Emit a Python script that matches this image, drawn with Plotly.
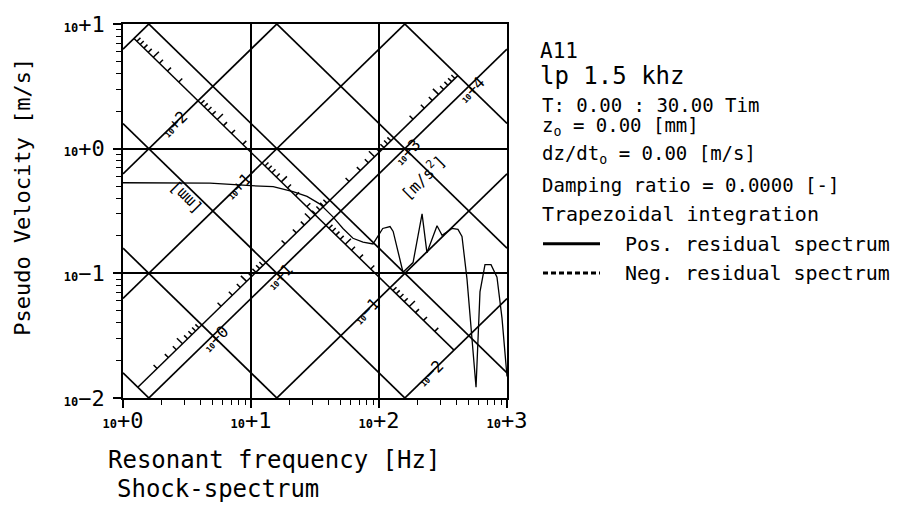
import math
import plotly.graph_objects as go

# ---- data -------------------------------------------------------------
# Positive residual shock spectrum: resonant frequency [Hz] vs pseudo velocity [m/s]
freq_hz = [1.0, 2.33, 4.78, 10.0, 14.9, 21.3, 27.4, 34.6, 43.7, 52.3, 62.6, 75.0, 89.8,
           107, 122, 129, 154, 184.5, 217, 237, 284, 311, 372, 414, 445, 487, 573,
           615, 673, 750, 835, 914, 1000]
pos_velocity = [0.533, 0.533, 0.53, 0.505, 0.496, 0.453, 0.414, 0.359, 0.284, 0.229,
                0.191, 0.178, 0.172, 0.229, 0.237, 0.217, 0.102, 0.122, 0.300, 0.146,
                0.241, 0.202, 0.229, 0.225, 0.198, 0.0898, 0.0122, 0.0710, 0.1175,
                0.1175, 0.093, 0.0437, 0.0149]

# Axis decades and their labels
x_decades = [1, 10, 100, 1000]
x_exp_labels = ["+0", "+1", "+2", "+3"]
y_decades = [0.01, 0.1, 1, 10]
y_exp_labels = ["\u22122", "\u22121", "+0", "+1"]

# Tripartite grid: constant displacement [mm] and constant acceleration [m/s^2]
disp_grid_mm = [0.01, 0.1, 1, 10, 100, 1000]
acc_grid = [0.1, 1, 10, 100, 1000, 10000]
disp_label_mm = [100, 10, 0.1, 0.01]
disp_label_exp = ["+2", "+1", "\u22121", "\u22122"]
acc_label = [1, 10, 1000, 10000]
acc_label_exp = ["+0", "+1", "+3", "+4"]

# ---- geometry helpers ------------------------------------------------
FONT = "DejaVu Sans Mono"
W, H = 909, 512
ML, MR, MT, MB = 123, 402, 15, 114
U = 3.0 / (W - ML - MR)          # decades per pixel (both axes span 3 decades)
LOG2PI = math.log10(2 * math.pi)
S_DRULER = 0.97                   # log V + log f of the displacement ruler
C_ARULER = -2.03                  # log V - log f of the acceleration ruler
R2 = math.sqrt(2)


def d_const(d_mm):
    return LOG2PI + math.log10(d_mm / 1000.0)


def a_const(a):
    return math.log10(a) - LOG2PI


def on_druler(d_mm):
    c = d_const(d_mm)
    return (S_DRULER - c) / 2, (S_DRULER + c) / 2


def on_aruler(a):
    s = a_const(a)
    return (s - C_ARULER) / 2, (s + C_ARULER) / 2


fig = go.Figure()

# diagonal grid lines
gx, gy = [], []
for d in disp_grid_mm:
    dm = d / 1000.0
    gx += [1, 1000, None]
    gy += [2 * math.pi * 1 * dm, 2 * math.pi * 1000 * dm, None]
for a in acc_grid:
    gx += [1, 1000, None]
    gy += [a / (2 * math.pi * 1), a / (2 * math.pi * 1000), None]
fig.add_trace(go.Scatter(x=gx, y=gy, mode="lines", line=dict(color="black", width=1.7),
                         hoverinfo="skip", showlegend=False))

# rulers with logarithmic ticks
rx, ry = [], []
p0, p1 = on_druler(max(disp_grid_mm)), on_druler(min(disp_grid_mm))
rx += [10 ** p0[0], 10 ** p1[0], None]
ry += [10 ** p0[1], 10 ** p1[1], None]
for k in range(-2, 3):
    for m in range(2, 10):
        lf, lv = on_druler(m * 10 ** k)
        L = (8 if m == 5 else 5) * U / R2
        rx += [10 ** lf, 10 ** (lf + L), None]
        ry += [10 ** lv, 10 ** (lv + L), None]
p0, p1 = on_aruler(min(acc_grid)), on_aruler(max(acc_grid))
rx += [10 ** p0[0], 10 ** p1[0], None]
ry += [10 ** p0[1], 10 ** p1[1], None]
for k in range(-1, 4):
    for m in range(2, 10):
        lf, lv = on_aruler(m * 10 ** k)
        L = (8 if m == 5 else 5) * U / R2
        rx += [10 ** lf, 10 ** (lf - L), None]
        ry += [10 ** lv, 10 ** (lv + L), None]
fig.add_trace(go.Scatter(x=rx, y=ry, mode="lines", line=dict(color="black", width=1.5),
                         hoverinfo="skip", showlegend=False))

# spectrum curve
fig.add_trace(go.Scatter(x=freq_hz, y=pos_velocity, mode="lines",
                         line=dict(color="black", width=1.3), showlegend=False))

ann = []


def small10(exp, big=15, small=8):
    return ("<span style='font-size:%dpx'><b>10</b></span>"
            "<span style='font-size:%dpx'>%s</span>") % (small, big, exp)


for d, e in zip(disp_label_mm, disp_label_exp):
    lf, lv = on_druler(d)
    ann.append(dict(x=lf - 24 * U, y=lv - 24 * U, xref="x", yref="y", text=small10(e, 16),
                    textangle=-45, showarrow=False, xanchor="center", yanchor="middle",
                    font=dict(family=FONT, size=16, color="black")))
for a, e in zip(acc_label, acc_label_exp):
    lf, lv = on_aruler(a)
    ann.append(dict(x=lf + 14 * U, y=lv - 14 * U, xref="x", yref="y", text=small10(e, 16),
                    textangle=-45, showarrow=False, xanchor="center", yanchor="middle",
                    font=dict(family=FONT, size=16, color="black")))

ann.append(dict(x=0.484, y=-0.391, xref="x", yref="y", text="[mm]", textangle=-135,
                showarrow=False, xanchor="center", yanchor="middle",
                font=dict(family=FONT, size=16, color="black")))
ann.append(dict(x=2.344, y=-0.234, xref="x", yref="y", text="[m/s<sup>2</sup>]", textangle=-45,
                showarrow=False, xanchor="center", yanchor="middle",
                font=dict(family=FONT, size=16, color="black")))


def px(x):
    return (x - ML) / (W - ML - MR)


def py(y):
    return (H - MB - y) / (H - MT - MB)


# axis titles
ann.append(dict(x=px(23), y=py(192), xref="paper", yref="paper", textangle=-90,
                xanchor="center", yanchor="middle", text="Pseudo Velocity [m/s]",
                showarrow=False, font=dict(family=FONT, size=22, color="black")))
ann.append(dict(x=px(106), y=py(461), xref="paper", yref="paper", xanchor="left",
                yanchor="middle", text="Resonant frequency [Hz]", showarrow=False,
                font=dict(family=FONT, size=24, color="black")))
ann.append(dict(x=px(115), y=py(491), xref="paper", yref="paper", xanchor="left",
                yanchor="middle", text="Shock-spectrum", showarrow=False,
                font=dict(family=FONT, size=24, color="black")))

# run description block
info = [
    ("A11", 43, 21, 538),
    ("lp 1.5 khz", 68, 24, 538),
    ("T: 0.00 : 30.00 Tim", 98, 19, 540),
    ("z<sub>o</sub> = 0.00 [mm]", 120, 19, 540),
    ("dz/dt<sub>o</sub> = 0.00 [m/s]", 149, 19, 540),
    ("Damping ratio = 0.0000 [-]", 180, 19, 540),
    ("Trapezoidal integration", 210, 20, 540),
    ("Pos. residual spectrum", 240, 20, 623),
    ("Neg. residual spectrum", 270, 20, 623),
]
for t, yy, fs, x0 in info:
    ann.append(dict(x=px(x0), y=py(yy), xref="paper", yref="paper", xanchor="left",
                    yanchor="middle", text=t, showarrow=False,
                    font=dict(family=FONT, size=fs, color="black")))

shapes = [
    dict(type="line", xref="paper", yref="paper", x0=px(543), x1=px(600), y0=py(240), y1=py(240),
         line=dict(color="black", width=3)),
    dict(type="line", xref="paper", yref="paper", x0=px(543), x1=px(600), y0=py(270), y1=py(270),
         line=dict(color="black", width=3, dash="5px,3px")),
]

x_minor = [m * 10 ** k for k in range(0, 3) for m in range(2, 10)]
y_minor = [m * 10 ** k for k in range(-2, 1) for m in range(2, 10)]

axis_common = dict(type="log", showline=True, linecolor="black", linewidth=1.7, mirror=True,
                   showgrid=True, gridcolor="black", gridwidth=1.7, zeroline=False,
                   ticks="outside", ticklen=8, tickwidth=1.7, tickcolor="black",
                   tickfont=dict(family=FONT, size=22, color="black"))

fig.update_layout(
    width=W, height=H, autosize=False,
    margin=dict(l=ML, r=MR, t=MT, b=MB, pad=0),
    paper_bgcolor="white", plot_bgcolor="white",
    xaxis=dict(range=[0, 3], tickvals=x_decades,
               ticktext=[small10(e, 22, 12) for e in x_exp_labels],
               ticklabelstandoff=-6,
               minor=dict(tickvals=x_minor, ticks="outside", ticklen=5, tickcolor="black",
                          tickwidth=1.2, showgrid=False),
               **axis_common),
    yaxis=dict(range=[-2, 1], tickvals=y_decades,
               ticktext=[small10(e, 22, 12) for e in y_exp_labels],
               ticklabelstandoff=4,
               minor=dict(tickvals=y_minor, ticks="outside", ticklen=5, tickcolor="black",
                          tickwidth=1.2, showgrid=False),
               **axis_common),
    annotations=ann, shapes=shapes, showlegend=False,
)

fig.write_html("out.html")
